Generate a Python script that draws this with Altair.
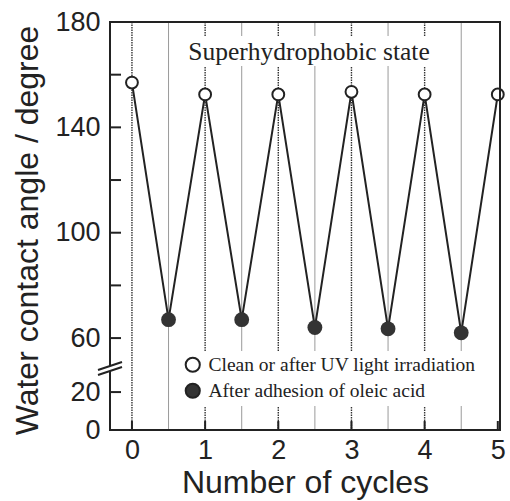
import altair as alt
import pandas as pd

# ---------------- data ----------------
cycles_clean = [0, 1, 2, 3, 4, 5]
angle_clean = [157, 152.5, 152.5, 153.5, 152.5, 152.5]
cycles_oleic = [0.5, 1.5, 2.5, 3.5, 4.5]
angle_oleic = [67, 67, 64, 63.5, 62]
series_names = ["Clean or after UV light irradiation", "After adhesion of oleic acid"]
y_tick_values = [0, 20, 60, 100, 140, 180]
y_minor_ticks = [80, 120, 160]
x_tick_values = [0, 1, 2, 3, 4, 5]
int_lines = [0, 1, 2, 3, 4]
half_lines = [0.5, 1.5, 2.5, 3.5, 4.5]
annotation = ["Superhydrophobic state"]

# broken axis: lower part (0-20) compressed below 60
LOW_BASE = 25.1
LOW_20 = 39.5
SLOPE = (LOW_20 - LOW_BASE) / 20.0


def disp(v):
    return v if v >= 60 else LOW_BASE + v * SLOPE


INK = "#222222"
M = 2  # margin (px) between the scale range edge and the drawn frame
W, H = 390 + 2 * M, 408 + 2 * M
FRAME_X = [-0.3, 5.03]
FRAME_Y = [disp(0), 180]
PX_X = 390 / (FRAME_X[1] - FRAME_X[0])
PX_Y = 408 / (FRAME_Y[1] - FRAME_Y[0])
X_DOMAIN = [FRAME_X[0] - M / PX_X, FRAME_X[1] + M / PX_X]
Y_DOMAIN = [FRAME_Y[0] - M / PX_Y, FRAME_Y[1] + M / PX_Y]

clean = pd.DataFrame({"cycle": cycles_clean, "angle": angle_clean, "series": series_names[0]})
oleic = pd.DataFrame({"cycle": cycles_oleic, "angle": angle_oleic, "series": series_names[1]})
for df in (clean, oleic):
    df["y"] = [disp(v) for v in df["angle"]]
pts = pd.concat([clean, oleic]).sort_values("cycle")

xscale = alt.Scale(domain=X_DOMAIN, nice=False, zero=False)
yscale = alt.Scale(domain=Y_DOMAIN, nice=False, zero=False)
fill_scale = alt.Scale(domain=series_names, range=["white", "#333333"])

label_expr = (
    f"datum.value >= 59 ? format(datum.value, 'd') : "
    f"format((datum.value - {LOW_BASE}) / {SLOPE}, '.0f')"
)

x_axis = alt.Axis(
    values=x_tick_values, format="d", title="Number of cycles", domain=False, ticks=False,
    grid=False, labelFlush=False, labelOverlap=False, labelPadding=5,
    titleX=W / 2, titleY=60, titleBaseline="alphabetic", titleAnchor="middle",
)
y_axis = alt.Axis(
    values=[disp(v) for v in y_tick_values], labelExpr=label_expr,
    title="Water contact angle / degree", domain=False, ticks=False, grid=False,
    labelFlush=False, labelOverlap=False, labelPadding=8,
    titleX=-71, titleY=210, titleBaseline="alphabetic", titleAngle=270, titleAlign="center",
)

legend = alt.Legend(
    title=None, orient="none", legendX=71, legendY=331, fillColor="white",
    padding=4, rowPadding=3, labelOffset=6, symbolType="circle", symbolSize=200,
    symbolStrokeColor=INK, symbolStrokeWidth=2, symbolOpacity=1,
    labelFont="Liberation Serif", labelFontSize=19.5, labelColor=INK,
    labelLimit=400, zindex=1,
)

one = pd.DataFrame({"k": [0]})


def bar(x1, x2, y1, y2):
    return alt.Chart(one).mark_rect(color=INK, opacity=1).encode(
        x=alt.value(x1), x2=alt.value(x2), y=alt.value(y1), y2=alt.value(y2)
    )


# frame drawn as four thin filled bars
frame_left = bar(M - 1, M + 1, M - 1, H - M + 1)
frame_right = bar(W - M - 1, W - M + 1, M - 1, H - M + 1)
frame_top = bar(M - 1, W - M + 1, M - 1, M + 1)
frame_bottom = bar(M - 1, W - M + 1, H - M - 1, H - M + 1)

v_int = alt.Chart(pd.DataFrame({"x": int_lines})).mark_rule(
    color="#333333", strokeWidth=1.4, strokeDash=[1.5, 1]
).encode(x=alt.X("x:Q", scale=xscale, axis=x_axis), y=alt.value(M), y2=alt.value(H - M))
v_half = alt.Chart(pd.DataFrame({"x": half_lines})).mark_rule(color="#9a9a9a", strokeWidth=1).encode(
    x=alt.X("x:Q", scale=xscale), y=alt.value(M), y2=alt.value(H - M)
)

text_bg = alt.Chart(one).mark_rect(color="white").encode(
    x=alt.value(70), x2=alt.value(332), y=alt.value(16), y2=alt.value(46)
)

line = alt.Chart(pts).mark_line(color=INK, strokeWidth=2).encode(
    x=alt.X("cycle:Q", scale=xscale),
    y=alt.Y("y:Q", scale=yscale, axis=y_axis),
    order="cycle:Q",
)

open_pts = alt.Chart(clean).mark_point(
    filled=True, stroke=INK, strokeWidth=2, opacity=1, shape="circle", size=140
).encode(
    x=alt.X("cycle:Q", scale=xscale),
    y=alt.Y("y:Q", scale=yscale),
    fill=alt.Fill("series:N", scale=fill_scale, legend=legend),
)
filled_pts = alt.Chart(oleic).mark_point(
    filled=True, strokeWidth=0, opacity=1, shape="circle", size=220
).encode(
    x=alt.X("cycle:Q", scale=xscale),
    y=alt.Y("y:Q", scale=yscale),
    fill=alt.Fill("series:N", scale=fill_scale, legend=legend),
)

text = alt.Chart(pd.DataFrame({"t": annotation})).mark_text(
    font="Liberation Serif", fontSize=25.5, color=INK, align="center", baseline="alphabetic"
).encode(x=alt.value(201), y=alt.value(40), text="t:N")

ytick_df = pd.DataFrame({"v": [disp(v) for v in (y_tick_values[1:] + y_minor_ticks)]})
yticks = alt.Chart(ytick_df).mark_rule(color=INK, strokeWidth=2).encode(
    y=alt.Y("v:Q", scale=yscale), x=alt.value(M), x2=alt.value(M + 11)
)
xtick_df = pd.DataFrame({"x": x_tick_values})
xticks = alt.Chart(xtick_df).mark_rule(color=INK, strokeWidth=2).encode(
    x=alt.X("x:Q", scale=xscale), y=alt.value(H - M), y2=alt.value(H - M - 9)
)


def seg(x1, x2, y1, y2, width=2):
    return alt.Chart(one).mark_rule(color=INK, strokeWidth=width).encode(
        x=alt.value(x1), x2=alt.value(x2), y=alt.value(y1), y2=alt.value(y2)
    )


brk_gap = alt.Chart(one).mark_rect(color="white").encode(
    x=alt.value(M - 2.5), x2=alt.value(M + 2.5), y=alt.value(346), y2=alt.value(351)
)
brk1 = seg(M - 12, M + 12, 355, 347)
brk2 = seg(M - 12, M + 12, 350, 342)

chart = (
    alt.layer(
        v_int, v_half, text_bg, line, open_pts, filled_pts, text,
        frame_left, frame_right, frame_top, frame_bottom,
        yticks, xticks, brk_gap, brk1, brk2,
    )
    .properties(
        width=W, height=H,
        autosize=alt.AutoSizeParams(type="none"),
        padding={"left": 110 - M, "top": 22 - M, "right": 10 - M, "bottom": 71 - M},
        background="white",
    )
    .configure_view(strokeWidth=0)
    .configure_axis(
        labelFont="Liberation Sans", labelFontSize=27, labelColor=INK,
        titleFont="Liberation Sans", titleFontSize=32, titleFontWeight="normal", titleColor=INK,
    )
)

chart.save("out.html", embed_options={"renderer": "svg", "actions": False})
